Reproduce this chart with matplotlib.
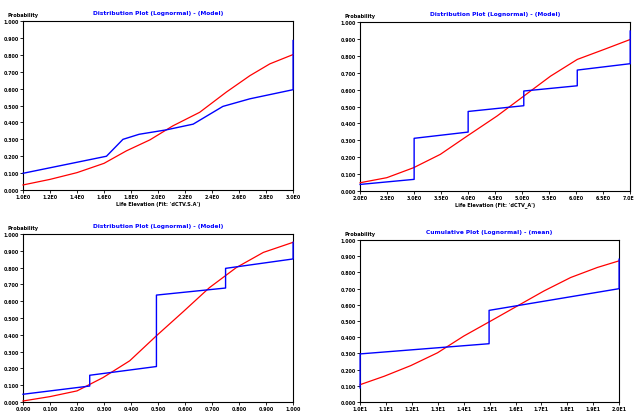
import numpy as np
import matplotlib
matplotlib.use("Agg")
import matplotlib.pyplot as plt

# probability axis, shared by all four plots
prob_ticks = [0.0, 0.1, 0.2, 0.3, 0.4, 0.5, 0.6, 0.7, 0.8, 0.9, 1.0]
prob_labels = ["0.000", "0.100", "0.200", "0.300", "0.400", "0.500",
               "0.600", "0.700", "0.800", "0.900", "1.000"]

titles = ["Distribution Plot (Lognormal) - (Model)",
          "Distribution Plot (Lognormal) - (Model)",
          "Distribution Plot (Lognormal) - (Model)",
          "Cumulative Plot (Lognormal) - (mean)"]
xlabels = ["Life Elevation (Fit: 'dCTV.S.A')",
           "Life Elevation (Fit: 'dCTV_A')",
           "Life Elevation (Fit: 'dCTV.S.A')",
           "Life Elevation (Fit: 'dCTV.A')"]

# x tick labels (11 per plot)
xt1 = ["1.0E0", "1.2E0", "1.4E0", "1.6E0", "1.8E0", "2.0E0", "2.2E0", "2.4E0", "2.6E0", "2.8E0", "3.0E0"]
xt2 = ["2.0E0", "2.5E0", "3.0E0", "3.5E0", "4.0E0", "4.5E0", "5.0E0", "5.5E0", "6.0E0", "6.5E0", "7.0E0"]
xt3 = ["0.000", "0.100", "0.200", "0.300", "0.400", "0.500", "0.600", "0.700", "0.800", "0.900", "1.000"]
xt4 = ["1.0E1", "1.1E1", "1.2E1", "1.3E1", "1.4E1", "1.5E1", "1.6E1", "1.7E1", "1.8E1", "1.9E1", "2.0E1"]

# empirical (blue) and fitted lognormal (red), x in tick units
emp1_x = [0, 3.09, 3.7, 4.3, 5.3, 6.3, 7.4, 8.4, 10, 10]
emp1_y = [0.099, 0.20, 0.30, 0.33, 0.356, 0.39, 0.495, 0.54, 0.594, 0.885]
fit1_x = [0, 1, 2, 3, 3.83, 4.7, 5.55, 6.54, 7.53, 8.4, 9.14, 10]
fit1_y = [0.03, 0.063, 0.103, 0.158, 0.232, 0.297, 0.38, 0.46, 0.58, 0.677, 0.747, 0.802]

emp2_x = [0, 2.0, 2.0, 4.0, 4.0, 6.06, 6.06, 8.04, 8.04, 9.96, 10, 10]
emp2_y = [0.039, 0.069, 0.312, 0.349, 0.471, 0.505, 0.592, 0.623, 0.716, 0.753, 0.753, 0.947]
fit2_x = [0, 0.99, 1.98, 2.97, 3.96, 5.07, 6.06, 7.05, 8.04, 9.03, 10]
fit2_y = [0.049, 0.079, 0.138, 0.217, 0.325, 0.444, 0.562, 0.680, 0.779, 0.838, 0.897]

emp3_x = [0, 2.47, 2.47, 4.94, 4.94, 7.5, 7.5, 10, 10]
emp3_y = [0.046, 0.095, 0.159, 0.211, 0.636, 0.678, 0.795, 0.851, 0.95]
fit3_x = [0, 1, 2, 2.96, 3.95, 4.94, 5.93, 6.9, 7.9, 8.9, 10]
fit3_y = [0.006, 0.032, 0.066, 0.145, 0.245, 0.394, 0.537, 0.68, 0.8, 0.89, 0.95]

emp4_x = [0, 0, 4.98, 4.98, 10, 10]
emp4_y = [0.087, 0.297, 0.36, 0.566, 0.70, 0.882]
fit4_x = [0, 0.93, 1.96, 2.99, 4.0, 5.04, 6.07, 7.1, 8.13, 9.16, 10]
fit4_y = [0.107, 0.159, 0.225, 0.304, 0.407, 0.5, 0.593, 0.686, 0.769, 0.831, 0.872]

panels = [
    ([0.0363, 0.5386, 0.426, 0.408], emp1_x, emp1_y, fit1_x, fit1_y, xt1),
    ([0.568, 0.5362, 0.426, 0.408], emp2_x, emp2_y, fit2_x, fit2_y, xt2),
    ([0.0363, 0.0266, 0.426, 0.406], emp3_x, emp3_y, fit3_x, fit3_y, xt3),
    ([0.568, 0.0266, 0.4085, 0.391], emp4_x, emp4_y, fit4_x, fit4_y, xt4),
]

fig = plt.figure(figsize=(6.34, 4.14), dpi=100)
for i, (pos, ex, ey, fx, fy, xt) in enumerate(panels):
    ax = fig.add_axes(pos)
    ax.plot(fx, fy, color="#ff0000", lw=0.9, zorder=3, clip_on=False)
    ax.plot(ex, ey, color="#0000ff", lw=1.0, zorder=3, clip_on=False)
    ax.set_xlim(0, 10)
    ax.set_ylim(0, 1)
    ax.set_xticks(range(11))
    ax.set_xticklabels(xt)
    ax.set_yticks(prob_ticks)
    ax.set_yticklabels(prob_labels)
    ax.tick_params(labelsize=3.4, length=2, width=0.6, pad=1)
    for lab in ax.get_xticklabels() + ax.get_yticklabels():
        lab.set_fontweight("bold")
    for sp in ax.spines.values():
        sp.set_linewidth(0.8)
    ax.set_title(titles[i], fontsize=4.2, color="#0000ff", fontweight="bold", pad=5)
    ax.set_xlabel(xlabels[i], fontsize=3.6, fontweight="bold", labelpad=1)
    ax.text(0, 1.025, "Probability", transform=ax.transAxes, fontsize=3.6,
            fontweight="bold", ha="center", va="bottom")

fig.savefig("out.png", dpi=100)
